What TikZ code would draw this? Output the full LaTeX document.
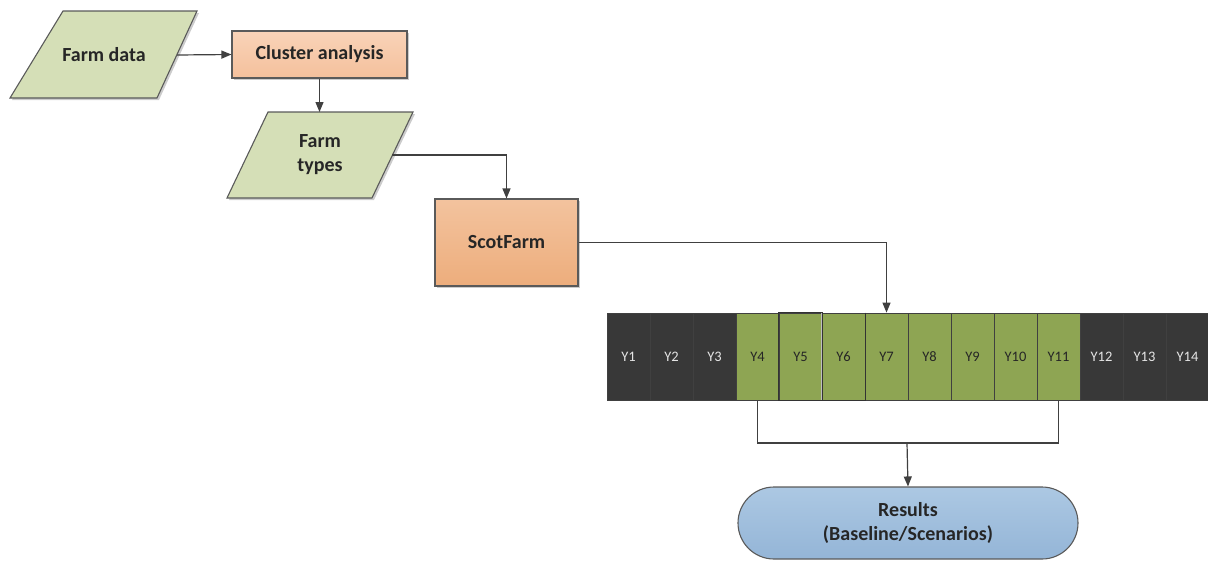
\documentclass[tikz,border=0pt]{standalone}
\usepackage{fontspec}
\setmainfont{Carlito}
\usetikzlibrary{arrows.meta,shapes.misc,shadows}

\definecolor{datafill}{HTML}{D5DFB7}
\definecolor{procA}{HTML}{F9D3B8}
\definecolor{procB}{HTML}{F4C09C}
\definecolor{simA}{HTML}{F3C39E}
\definecolor{simB}{HTML}{EDAD7C}
\definecolor{resA}{HTML}{ACC8E3}
\definecolor{resB}{HTML}{94B5D7}
\definecolor{yeardark}{HTML}{383838}
\definecolor{yeargreen}{HTML}{8EA553}
\definecolor{edge}{HTML}{5A5A5A}
\definecolor{wire}{HTML}{404040}

\tikzset{
  softshadow/.style={drop shadow={shadow xshift=2pt,shadow yshift=-2pt,opacity=0.2,fill=black}},
  databox/.style={draw=edge,line width=1.1pt,fill=datafill,softshadow},
  label/.style={font=\bfseries\fontsize{20}{24}\selectfont,align=center,text=black!85},
  procbox/.style={draw=edge,line width=1.1pt,top color=procA,bottom color=procB,softshadow,
    label,minimum width=175pt,minimum height=47pt,inner sep=0pt},
  simbox/.style={draw=edge,line width=1.1pt,top color=simA,bottom color=simB,softshadow,
    label,minimum width=143pt,minimum height=87pt,inner sep=0pt},
  resbox/.style={rounded rectangle,draw=edge,line width=1.1pt,top color=resA,bottom color=resB,
    label,minimum width=340pt,minimum height=72pt,inner sep=0pt},
  yearcell/.style={draw=black!75,line width=0.8pt,minimum width=43pt,minimum height=87pt,
    inner sep=0pt,font=\fontsize{14.5}{16}\selectfont},
  darkyear/.style={yearcell,fill=yeardark,text=white!90!black},
  greenyear/.style={yearcell,fill=yeargreen,text=black!85},
  wireline/.style={draw=wire,line width=1.2pt},
  flow/.style={wireline,-{Triangle[length=10pt,width=8pt]}},
}

\begin{document}
\begin{tikzpicture}[x=1pt,y=-1pt]
\useasboundingbox (0,0) rectangle (1208,560);
\clip (0,0) rectangle (1208,560);

% input data
\path[databox] (63,11) -- (197,11) -- (157,98) -- (10,98) -- cycle;
\node[label] (farmdata) at (104,55) {Farm data};
\coordinate (farmdata-out) at (177,55);

% clustering step
\node[procbox] (cluster) at (319.5,54.5) {Cluster analysis};

% farm types
\path[databox] (268,112) -- (413,112) -- (372,198) -- (227,198) -- cycle;
\node[label] (types) at (320,155) {Farm\\types};
\coordinate (types-in) at (319.5,112);
\coordinate (types-out) at (392,155);

% farm model
\node[simbox] (scotfarm) at (506.5,242.5) {ScotFarm};

% simulated years
\foreach \i in {1,...,14}{
  \pgfmathsetmacro{\cx}{607+43*(\i-1)+21.5}
  \ifnum\i<4 \def\kind{darkyear}\else\ifnum\i>11 \def\kind{darkyear}\else\def\kind{greenyear}\fi\fi
  \node[\kind] (y\i) at (\cx,356.5) {Y\i};
}
\draw[black!80,line width=1.3pt] (y5.north west) rectangle (y5.south east);
\draw[black!80,line width=1.3pt] (y6.north east) |- (y6.south west);
\draw[white!75!black,line width=1pt] (y6.north west) -- (y6.south west);

% results
\node[resbox] (results) at (908,523) {Results\\(Baseline/Scenarios)};
\coordinate (join) at (907,443);

% connectors
\draw[flow] (farmdata-out) -- (cluster.west);
\draw[flow] (cluster.south) -- (types-in);
\draw[flow] (types-out) -| (scotfarm.north);
\draw[flow] (scotfarm.east) -| (y7.north);
\draw[wireline] (y4.south) |- (join) -| (y11.south);
\draw[flow] (join) -- (results.north);
\end{tikzpicture}
\end{document}
